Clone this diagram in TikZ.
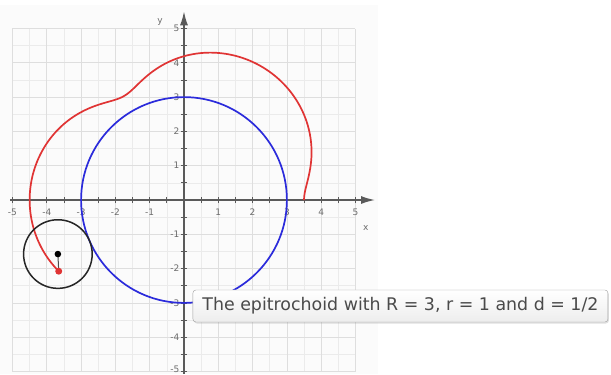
\documentclass[tikz,border=0pt]{standalone}
\usepackage{fontspec}
\setmainfont{DejaVu Sans}
\usepackage{xcolor}
\usepackage{tikz}
\usetikzlibrary{arrows.meta, calc, shadows}
\definecolor{epired}{HTML}{E03434}
\definecolor{fixblue}{HTML}{2B2BDB}
\definecolor{axisgray}{HTML}{5A5A5A}
\definecolor{tipgray}{HTML}{4A4A4A}
\tikzset{
    gridfine/.style  = {draw=gray!16, line width=0.6pt},
    gridmain/.style  = {draw=gray!26, line width=0.7pt},
    axisline/.style  = {draw=axisgray, line width=1.5pt, -{Latex[length=14pt,width=8pt]}},
    tickmark/.style  = {draw=axisgray, line width=0.8pt},
    ticklbl/.style   = {font=\fontsize{9}{9}\selectfont, text=gray!85!black, inner sep=1pt},
    fixed/.style     = {draw=fixblue, line width=1.7pt},
    epitro/.style    = {draw=epired, line width=1.7pt},
    roller/.style    = {draw=black!85, line width=1.5pt},
    arm/.style       = {draw=black!70, line width=1pt},
    tooltip/.style   = {draw=gray!75, rounded corners=3pt, top color=white, bottom color=gray!14,
                        text=tipgray, font=\fontsize{17.4}{18}\selectfont,
                        minimum width=415pt, minimum height=32pt, inner sep=0pt,
                        drop shadow={shadow xshift=1pt, shadow yshift=-1.5pt, opacity=0.25}},
}

\begin{document}
\begin{tikzpicture}[x=34.3pt, y=34.3pt]
        \useasboundingbox (-5.364,-5.073) rectangle (12.449,5.831);
        \fill[gray!3] (-5.364,-5.073) rectangle (5.656,5.685);
        % grid
        \foreach \g in {-4.5,-3.5,...,4.5} {
            \draw[gridfine] (\g,-5) -- (\g,5);
            \draw[gridfine] (-5,\g) -- (5,\g);
        }
        \foreach \g in {-5,...,5} {
            \draw[gridmain] (\g,-5) -- (\g,5);
            \draw[gridmain] (-5,\g) -- (5,\g);
        }
        % axes
        \coordinate (xstart) at (-5.07,0);
        \coordinate (xend) at (5.57,0);
        \coordinate (ystart) at (0,-5.07);
        \coordinate (yend) at (0,5.5);
        \draw[axisline] (xstart) -- (xend);
        \draw[axisline] (ystart) -- (yend);
        \foreach \t in {-5,-4.5,...,5} {
            \draw[tickmark] (\t,-0.09) -- (\t,0.09);
            \draw[tickmark] (-0.09,\t) -- (0.09,\t);
        }
        \foreach \i in {-5,...,-1,1,2,...,5} {
            \node[ticklbl] (xl\i) at (\i,-0.35) {\i};
        }
        \foreach \i in {-4,...,-1,1,2,...,5} {
            \node[ticklbl, anchor=east] (yl\i) at (-0.1,\i) {\i};
        }
        \node[ticklbl, anchor=south east] (yl-5) at (-0.1,-5.06) {-5};
        \node[ticklbl] (xname) at (5.3,-0.82) {x};
        \node[ticklbl] (yname) at (-0.7,5.19) {y};
        % fixed circle and traced curve
        \coordinate (O) at (0,0);
        \draw[fixed] (O) circle (3);
        \draw[epitro] plot[domain=0:203.2, samples=220, smooth]
            ({4*cos(\x)-0.5*cos(4*\x)},{4*sin(\x)-0.5*sin(4*\x)});
        % rolling circle
        \coordinate (centre) at ({4*cos(203.2)},{4*sin(203.2)});
        \coordinate (tracer) at ({4*cos(203.2)-0.5*cos(4*203.2)},{4*sin(203.2)-0.5*sin(4*203.2)});
        \draw[roller] (centre) circle (1);
        \draw[arm] (centre) -- (tracer);
        \fill[black] (centre) circle (3.3pt);
        \fill[epired] (tracer) circle (3.5pt);
        % label
        \node[tooltip] (note) at (6.31,-3.09) {The epitrochoid with R = 3, r = 1 and d = 1/2};
    \end{tikzpicture}
\end{document}
